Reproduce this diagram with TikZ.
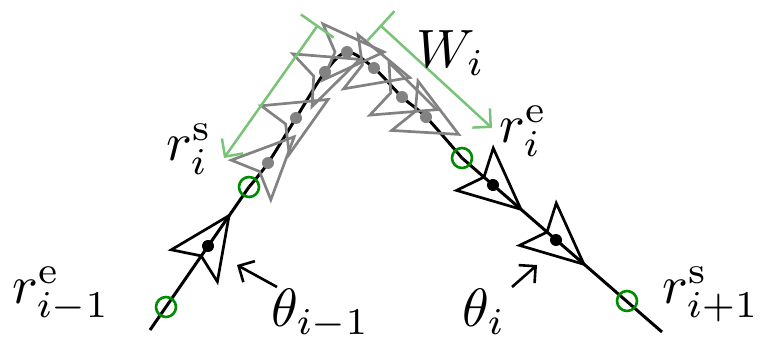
\documentclass[tikz,border=0pt]{standalone}
\usepackage{graphicx}
\usetikzlibrary{arrows.meta}
\definecolor{lgreen}{RGB}{120,195,120}
\definecolor{dgreen}{RGB}{0,140,0}
\definecolor{pgray}{RGB}{130,130,130}
\newcommand{\biglbl}[1]{\scalebox{5.4}{$#1$}}
\tikzset{
  pics/pose/.style={code={
    \draw[line width=2.7pt, line join=miter] (37,0) -- (-24,28) -- (-12,0) -- (-24,-28) -- cycle;
    \fill (0,0) circle (6);
  }},
  pathline/.style={line width=3pt, black},
  ringstyle/.style={draw=dgreen, line width=2.6pt, circle, minimum size=20pt, inner sep=0pt},
  garrow/.style={draw=lgreen, line width=2.5pt, {Bar[width=40pt]}-{Straight Barb[length=13pt,width=26pt]}},
  tarrow/.style={draw=black, line width=2.6pt, -{Straight Barb[length=12pt,width=24pt]}},
  lbl/.style={inner sep=0pt, anchor=base west},
}
\begin{document}
\begin{tikzpicture}[x=1pt,y=1pt]
\useasboundingbox (0,0) rectangle (775,-341);
% path points
\coordinate (S) at (150,-330);
\coordinate (P0) at (249,-187);
\coordinate (P1) at (268,-163);
\coordinate (P2) at (296,-118);
\coordinate (P3) at (325,-72);
\coordinate (P4) at (347,-52);
\coordinate (P5) at (374,-68);
\coordinate (P6) at (402,-97);
\coordinate (P7) at (426,-117);
\coordinate (P8) at (462,-158);
\coordinate (E) at (662,-332);
\coordinate (Q0) at (208,-246);
\coordinate (Q1) at (493,-185);
\coordinate (Q2) at (556,-240);
\coordinate (C0) at (166,-307);
\coordinate (C3) at (627,-301);
% trajectory
\draw[pathline] (S) -- (P0);
\draw[pathline] plot[smooth, tension=0.5] coordinates {(P0) (P1) (P2) (P3) (P4) (P5) (P6) (P7) (P8)};
\draw[pathline] (P8) -- (E);
% gray poses in window
\pic[pgray, rotate=45] at (P1) {pose};
\pic[pgray, rotate=30] at (P2) {pose};
\pic[pgray, rotate=20] at (P3) {pose};
\pic[pgray, rotate=0] at (P4) {pose};
\pic[pgray, rotate=-15] at (P5) {pose};
\pic[pgray, rotate=-20] at (P6) {pose};
\pic[pgray, rotate=-28] at (P7) {pose};
% black poses
\pic[black, rotate=55.3] at (Q0) {pose};
\pic[black, rotate=-41] at (Q1) {pose};
\pic[black, rotate=-41] at (Q2) {pose};
% green rings
\node[ringstyle] (c0) at (C0) {};
\node[ringstyle] (c1) at (P0) {};
\node[ringstyle] (c2) at (P8) {};
\node[ringstyle] (c3) at (C3) {};
% window arrows
\coordinate (g1s) at (318,-25);
\coordinate (g1e) at (224,-158);
\coordinate (g2s) at (380,-25);
\coordinate (g2e) at (492,-128);
\draw[garrow] (g1s) -- (g1e);
\draw[garrow] (g2s) -- (g2e);
% theta arrows
\coordinate (a1s) at (277,-287);
\coordinate (a1e) at (237,-265);
\coordinate (a2s) at (512,-287);
\coordinate (a2e) at (537,-265);
\draw[tarrow] (a1s) -- (a1e);
\draw[tarrow] (a2s) -- (a2e);
% labels
\node[lbl] (lre) at (12,-303) {\biglbl{r^{\mathrm{e}}_{i-1}}};
\node[lbl] (lt1) at (271,-326) {\biglbl{\theta_{i-1}}};
\node[lbl] (lt2) at (462,-326) {\biglbl{\theta_{i}}};
\node[lbl] (lrs2) at (662,-303) {\biglbl{r^{\mathrm{s}}_{i+1}}};
\node[lbl] (lrs) at (166,-160) {\biglbl{r^{\mathrm{s}}_{i}}};
\node[lbl] (lrei) at (499,-142) {\biglbl{r^{\mathrm{e}}_{i}}};
\node[lbl] (lw) at (416,-67) {\biglbl{W_i}};
\end{tikzpicture}
\end{document}
